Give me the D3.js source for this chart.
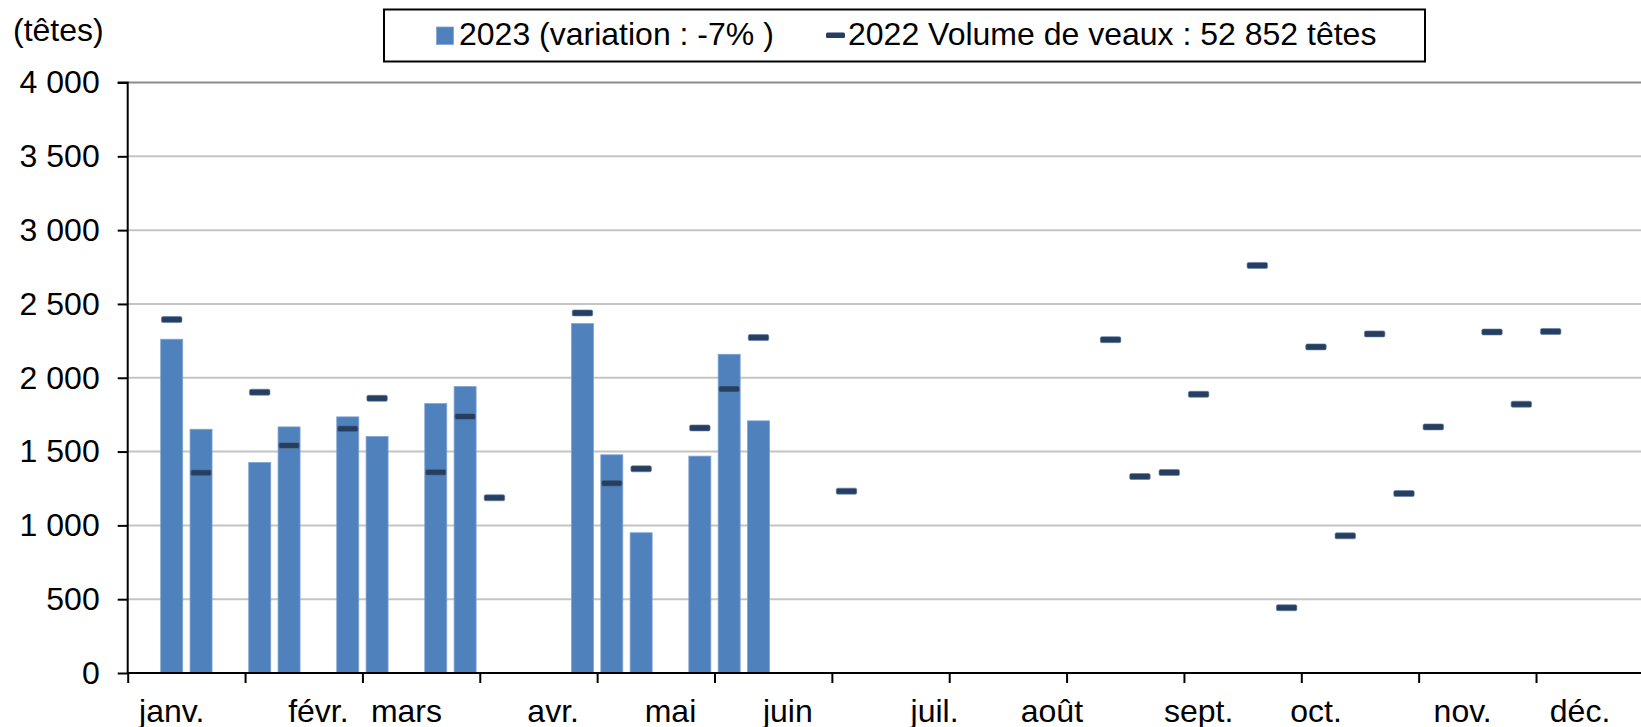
<!DOCTYPE html>
<html>
<head>
<meta charset="utf-8">
<script src="https://cdn.jsdelivr.net/npm/d3@7"></script>
<style>
  body { margin: 0; background: #fff; }
  svg { display: block; font-family: "Liberation Sans", Arial, sans-serif; }
</style>
</head>
<body>
<svg id="canvas" width="1641" height="727"></svg>
<script>
// weekly slots (52), most months get their label on one week
let weeks = d3.range(52)

let monthWeeks = [1, 6, 9, 14, 18, 22, 27, 31, 36, 40, 45, 49]
let monthLabels = ["janv.", "févr.", "mars", "avr.", "mai", "juin", "juil.", "août", "sept.", "oct.", "nov.", "déc."]

let values2023 = [null, 2261, 1651, null, 1426, 1667, null, 1735, 1602, null,
    1825, 1940, null, null, null, 2367, 1478, 950, null, 1469,
    2159, 1708, null, null, null, null, null, null, null, null,
    null, null, null, null, null, null, null, null, null, null,
    null, null, null, null, null, null, null, null, null, null,
    null, null]

let values2022 = [null, 2394, 1356, null, 1902, 1541, null, 1654, 1861, null,
    1360, 1737, 1187, null, null, 2439, 1286, 1383, null, 1660,
    1924, 2272, null, null, 1232, null, null, null, null, null,
    null, null, null, 2258, 1331, 1358, 1888, null, 2761, 442,
    2209, 929, 2297, 1216, 1667, null, 2310, 1821, 2313, null,
    null, null]

let yTicks = [0, 500, 1000, 1500, 2000, 2500, 3000, 3500, 4000]

let legend2023 = "2023 (variation : -7% )"
let legend2022 = "2022 Volume de veaux : 52 852 têtes"

let canvas = d3.select("#canvas")

let fontSize = "32px"
let plotLeft = 127.7
let slotW = 29.34
let plotRight = plotLeft + slotW * weeks.length   // runs past the picture edge, as in the original
let plotTop = 82.5
let plotBottom = 673

let fmt = (v) => v >= 1000 ? Math.floor(v / 1000) + " " + String(v % 1000).padStart(3, "0") : String(v)

let x = d3.scaleBand()
    .domain(weeks)
    .range([plotLeft, plotRight])
    .paddingInner(0.25)
    .paddingOuter(0.125)

let xSlots = d3.scaleLinear()
    .domain([0, weeks.length])
    .range([plotLeft, plotRight])

let y = d3.scaleLinear()
    .domain([0, 4000])
    .range([plotBottom, plotTop])

// gridlines
canvas.append("g")
    .selectAll("line")
    .data(yTicks.filter(d => d > 0))
    .join("line")
    .attr("x1", plotLeft)
    .attr("x2", plotRight)
    .attr("y1", d => y(d))
    .attr("y2", d => y(d))
    .attr("stroke", d => d === 4000 ? "#8c8c8c" : "#c4c4c4")
    .attr("stroke-width", 2)

// 2023 bars
canvas.append("g")
    .selectAll("rect")
    .data(weeks.filter(w => values2023[w] != null))
    .join("rect")
    .attr("x", w => x(w))
    .attr("y", w => y(values2023[w]))
    .attr("width", x.bandwidth())
    .attr("height", w => y(0) - y(values2023[w]))
    .attr("fill", "#4f81bd")
    .attr("stroke", "#7fa3d1")
    .attr("stroke-width", 0.8)

// 2022 markers
let markW = 20.5
let markH = 6
canvas.append("g")
    .selectAll("rect")
    .data(weeks.filter(w => values2022[w] != null))
    .join("rect")
    .attr("x", w => x(w) + x.bandwidth() / 2 - markW / 2)
    .attr("y", w => y(values2022[w]) - markH / 2)
    .attr("width", markW)
    .attr("height", markH)
    .attr("rx", 1.5)
    .attr("fill", "#263f60")
    .attr("stroke", "#5f7ea6")
    .attr("stroke-width", 0.6)

// y axis
let yAxis = d3.axisLeft(y)
    .tickValues(yTicks)
    .tickSize(10)
    .tickPadding(18)
    .tickFormat(fmt)

canvas.append("g")
    .attr("transform", `translate(${plotLeft},0)`)
    .call(yAxis)
    .call(g => g.select(".domain").attr("stroke", "#000").attr("stroke-width", 2).attr("d", `M-10,${plotTop}H0V${plotBottom}`))
    .call(g => g.selectAll(".tick line").attr("stroke", "#000").attr("stroke-width", 2))
    .call(g => g.selectAll(".tick text")
        .attr("font-family", "'Liberation Sans', Arial, sans-serif")
        .attr("font-size", fontSize)
        .attr("fill", "#000"))

// x axis: ticks every 4 weeks
let xTicks = d3.axisBottom(xSlots)
    .tickValues(d3.range(0, weeks.length, 4))
    .tickSize(10)
    .tickFormat("")

canvas.append("g")
    .attr("transform", `translate(0,${plotBottom})`)
    .call(xTicks)
    .call(g => g.select(".domain").attr("stroke", "#000").attr("stroke-width", 2).attr("d", `M${plotLeft},0H${plotRight}`))
    .call(g => g.selectAll(".tick line").attr("stroke", "#000").attr("stroke-width", 2))

// month labels
let xLabels = d3.axisBottom(x)
    .tickValues(monthWeeks)
    .tickSize(0)
    .tickPadding(0)
    .tickFormat(w => monthLabels[monthWeeks.indexOf(w)])

canvas.append("g")
    .attr("transform", `translate(0,${plotBottom})`)
    .call(xLabels)
    .call(g => g.select(".domain").remove())
    .call(g => g.selectAll(".tick text")
        .attr("y", 48.5)
        .attr("dy", 0)
        .attr("font-family", "'Liberation Sans', Arial, sans-serif")
        .attr("font-size", fontSize)
        .attr("fill", "#000"))

// unit label
canvas.append("text")
    .attr("x", 13)
    .attr("y", 41)
    .attr("font-size", fontSize)
    .attr("fill", "#000")
    .text("(têtes)")

// legend
let legend = canvas.append("g")
legend.append("rect")
    .attr("x", 384)
    .attr("y", 9.5)
    .attr("width", 1041)
    .attr("height", 52)
    .attr("fill", "#fff")
    .attr("stroke", "#000")
    .attr("stroke-width", 2)
legend.append("rect")
    .attr("x", 436.5)
    .attr("y", 27)
    .attr("width", 17)
    .attr("height", 17.5)
    .attr("fill", "#4f81bd")
    .attr("stroke", "#7fa3d1")
    .attr("stroke-width", 0.8)
legend.append("text")
    .attr("x", 459)
    .attr("y", 44.5)
    .attr("font-size", fontSize)
    .attr("fill", "#000")
    .text(legend2023)
legend.append("rect")
    .attr("x", 826)
    .attr("y", 32.5)
    .attr("width", 19)
    .attr("height", 5.5)
    .attr("rx", 1.5)
    .attr("fill", "#263f60")
legend.append("text")
    .attr("x", 848)
    .attr("y", 44.5)
    .attr("font-size", fontSize)
    .attr("fill", "#000")
    .text(legend2022)
</script>
</body>
</html>
